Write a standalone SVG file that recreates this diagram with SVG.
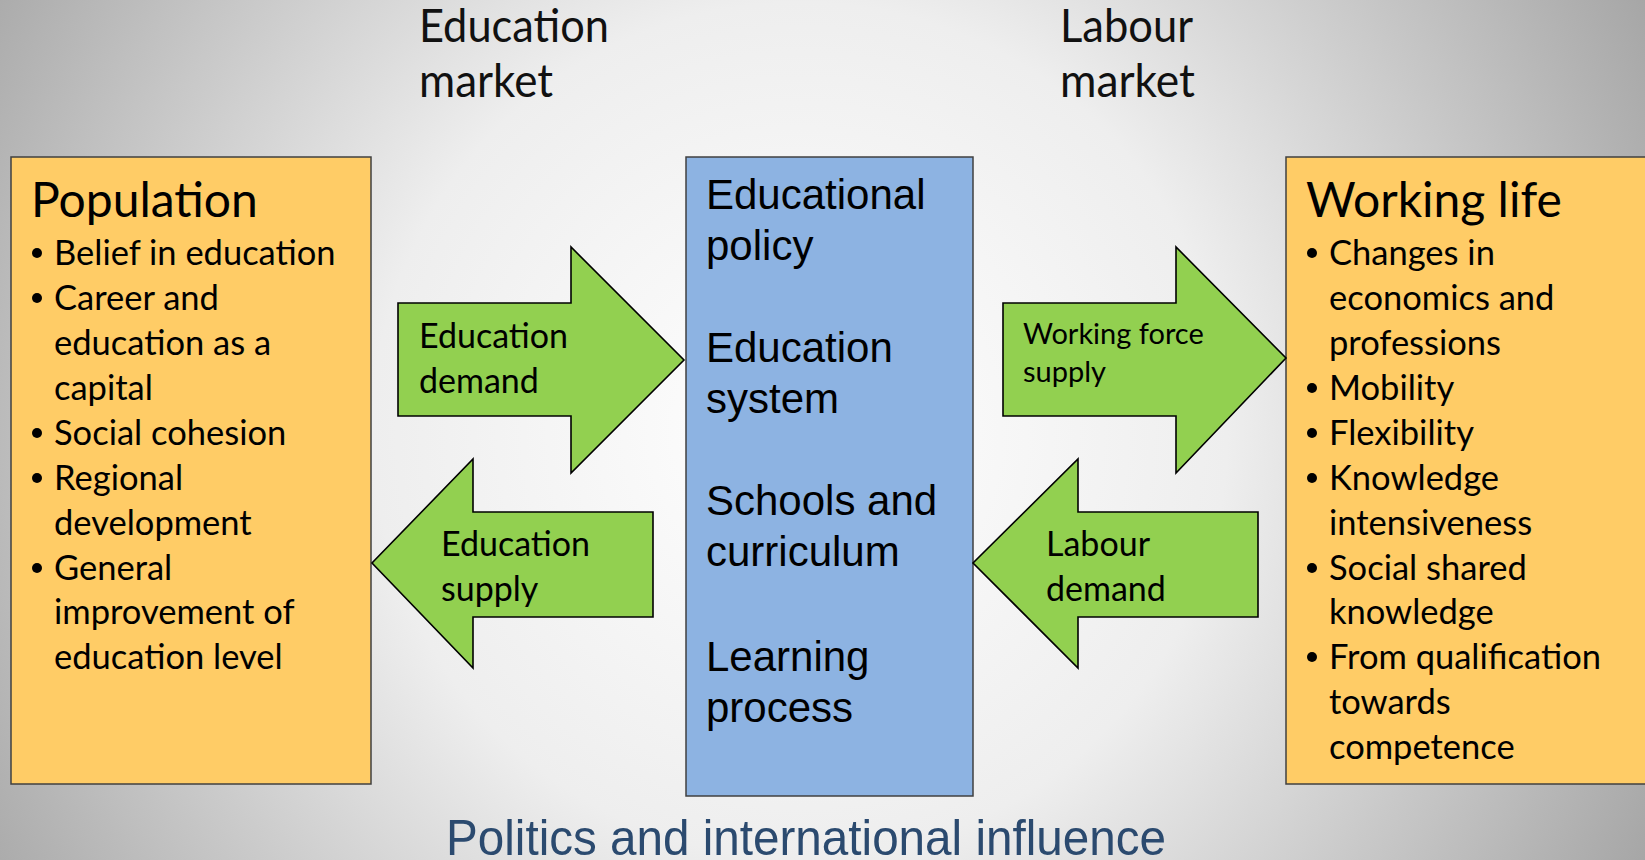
<svg xmlns="http://www.w3.org/2000/svg" width="1645" height="860" viewBox="0 0 1645 860">
<defs>
<radialGradient id="bg" cx="800" cy="430" r="950" gradientUnits="userSpaceOnUse">
<stop offset="0" stop-color="#ffffff"/>
<stop offset="0.45" stop-color="#eeeeee"/>
<stop offset="1" stop-color="#a6a6a6"/>
</radialGradient>
<style>
.box{stroke:#404040;stroke-width:1.5}
.orange{fill:#ffcc66}
.blue{fill:#8db3e2}
.arrow{fill:#92d050;stroke:#000;stroke-width:1.6;stroke-linejoin:miter}
.cal{font-family:Lato,"Open Sans",sans-serif;fill:#000}
.head{font-size:48px}
.item{font-size:34.5px}
.arr{font-size:34px}
.arrs{font-size:29px}
.ctr{font-family:"Liberation Sans",Arial,sans-serif;font-size:42px;fill:#000}
.top{font-family:Lato,"Open Sans",sans-serif;font-size:46px;fill:#111}
.bul{fill:#000}
</style>
</defs>
<rect x="0" y="0" width="1645" height="860" fill="url(#bg)"/>

<g id="top-labels">
<text class="top" x="419" y="42" textLength="190" lengthAdjust="spacingAndGlyphs">Education</text>
<text class="top" x="419" y="97" textLength="134" lengthAdjust="spacingAndGlyphs">market</text>
<text class="top" x="1060" y="42" textLength="133" lengthAdjust="spacingAndGlyphs">Labour</text>
<text class="top" x="1060" y="97" textLength="135" lengthAdjust="spacingAndGlyphs">market</text>
</g>

<g id="population">
<rect class="box orange" x="11" y="157" width="360" height="627"/>
<text class="cal head" x="31" y="217">Population</text>
<g class="bul">
<circle cx="37" cy="253" r="5"/><circle cx="37" cy="298" r="5"/><circle cx="37" cy="433" r="5"/><circle cx="37" cy="478" r="5"/><circle cx="37" cy="568" r="5"/>
</g>
<text class="cal item" x="54" y="265">Belief in education</text>
<text class="cal item" x="54" y="310">Career and</text>
<text class="cal item" x="54" y="355">education as a</text>
<text class="cal item" x="54" y="400">capital</text>
<text class="cal item" x="54" y="445">Social cohesion</text>
<text class="cal item" x="54" y="490">Regional</text>
<text class="cal item" x="54" y="535">development</text>
<text class="cal item" x="54" y="580">General</text>
<text class="cal item" x="54" y="624">improvement of</text>
<text class="cal item" x="54" y="669">education level</text>
</g>

<g id="education-system">
<rect class="box blue" x="686" y="157" width="287" height="639"/>
<text class="ctr" x="706" y="209">Educational</text>
<text class="ctr" x="706" y="260">policy</text>
<text class="ctr" x="706" y="362">Education</text>
<text class="ctr" x="706" y="413">system</text>
<text class="ctr" x="706" y="515">Schools and</text>
<text class="ctr" x="706" y="566">curriculum</text>
<text class="ctr" x="706" y="671">Learning</text>
<text class="ctr" x="706" y="722">process</text>
</g>

<g id="working-life">
<rect class="box orange" x="1286" y="157" width="380" height="627"/>
<text class="cal head" x="1306" y="217">Working life</text>
<g class="bul">
<circle cx="1312" cy="253" r="5"/><circle cx="1312" cy="388" r="5"/><circle cx="1312" cy="433" r="5"/><circle cx="1312" cy="478" r="5"/><circle cx="1312" cy="568" r="5"/><circle cx="1312" cy="657" r="5"/>
</g>
<text class="cal item" x="1329" y="265">Changes in</text>
<text class="cal item" x="1329" y="310">economics and</text>
<text class="cal item" x="1329" y="355">professions</text>
<text class="cal item" x="1329" y="400">Mobility</text>
<text class="cal item" x="1329" y="445">Flexibility</text>
<text class="cal item" x="1329" y="490">Knowledge</text>
<text class="cal item" x="1329" y="535">intensiveness</text>
<text class="cal item" x="1329" y="580">Social shared</text>
<text class="cal item" x="1329" y="624">knowledge</text>
<text class="cal item" x="1329" y="669">From qualification</text>
<text class="cal item" x="1329" y="714">towards</text>
<text class="cal item" x="1329" y="759">competence</text>
</g>

<g id="connectors">
<g id="education-demand">
<polygon class="arrow" points="398,303 571,303 571,247 684,360 571,473 571,416 398,416"/>
<text class="cal arr" x="419" y="348">Education</text>
<text class="cal arr" x="419" y="393">demand</text>
</g>
<g id="education-supply">
<polygon class="arrow" points="653,512 473,512 473,459 372,563 473,668 473,617 653,617"/>
<text class="cal arr" x="441" y="556">Education</text>
<text class="cal arr" x="441" y="601">supply</text>
</g>
<g id="working-force-supply">
<polygon class="arrow" points="1003,303 1176,303 1176,247 1286,358 1176,473 1176,416 1003,416"/>
<text class="cal arrs" x="1023" y="344">Working force</text>
<text class="cal arrs" x="1023" y="382">supply</text>
</g>
<g id="labour-demand">
<polygon class="arrow" points="1258,512 1078,512 1078,459 973,563 1078,668 1078,617 1258,617"/>
<text class="cal arr" x="1046" y="556">Labour</text>
<text class="cal arr" x="1046" y="601">demand</text>
</g>
</g>

<g id="footer">
<text x="446" y="855" font-family="'Liberation Sans',Arial,sans-serif" font-size="50" fill="#2b4a6f" textLength="720" lengthAdjust="spacingAndGlyphs">Politics and international influence</text>
</g>
</svg>
